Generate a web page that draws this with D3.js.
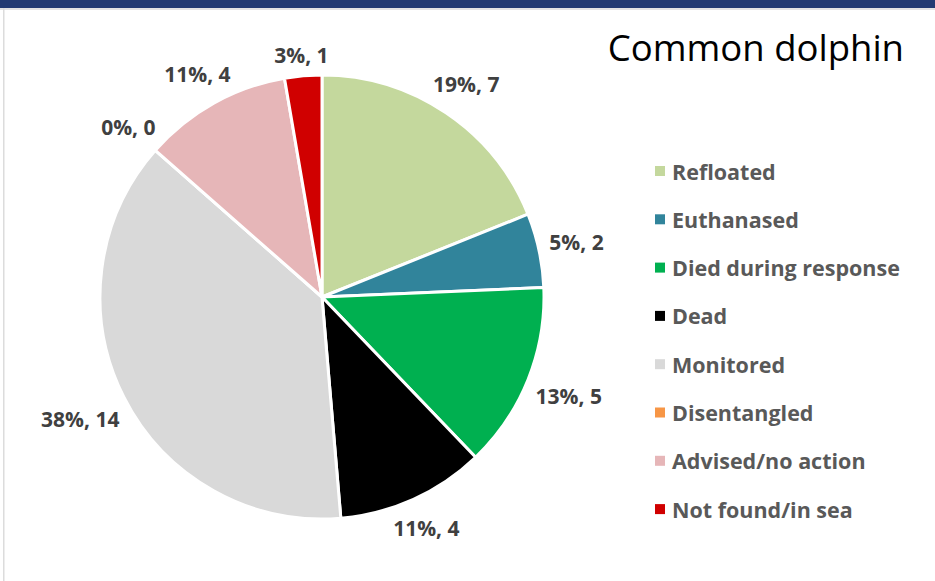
<!DOCTYPE html>
<html>
<head>
<meta charset="utf-8">
<script src="https://cdn.jsdelivr.net/npm/d3@7"></script>
<style>
  body { margin: 0; background: #fff; }
  svg { display: block; }
</style>
</head>
<body>
<script>
'use strict';

const categories = ['Refloated', 'Euthanased', 'Died during response', 'Dead',
  'Monitored', 'Disentangled', 'Advised/no action', 'Not found/in sea'];
const counts = [7, 2, 5, 4, 14, 0, 4, 1];
// percentages as printed on the chart
const percents = [19, 5, 13, 11, 38, 0, 11, 3];
const colours = ['#c4d89d', '#31849b', '#00b050', '#000000',
  '#d9d9d9', '#f79646', '#e6b6b8', '#d00000'];
const title = 'Common dolphin';

const width = 935, height = 581;
const cx = 322, cy = 297, r = 222;
const font = '"Open Sans", Lato, sans-serif';

const svg = d3.select('body').append('svg')
    .attr('width', width)
    .attr('height', height);

// frame bits of the slide
svg.append('rect').attr('x', 0).attr('y', 0).attr('width', width).attr('height', 8).attr('fill', '#233b73');
svg.append('rect').attr('x', 0).attr('y', 8).attr('width', width).attr('height', 2).attr('fill', '#e4e4e4');
svg.append('rect').attr('x', 3).attr('y', 8).attr('width', 1.5).attr('height', height - 8).attr('fill', '#dcdcdc');

const data = categories.map(function (c, i) {
  return {cat: c, n: counts[i], pct: percents[i], col: colours[i]};
});

const pie = d3.pie().sort(null).value(function (d) { return d.n; });
const arc = d3.arc().innerRadius(0).outerRadius(r);
const arcs = pie(data);

const g = svg.append('g').attr('transform', 'translate(' + cx + ',' + cy + ')');

g.selectAll('path.slice')
    .data(arcs).enter()
  .append('path')
    .attr('class', 'slice')
    .attr('d', arc)
    .attr('fill', function (d) { return d.data.col; })
    .attr('stroke', '#fff')
    .attr('stroke-width', 3)
    .attr('stroke-linejoin', 'round');

// data labels outside the pie
const lbl = g.selectAll('text.lbl')
    .data(arcs).enter()
  .append('text')
    .attr('class', 'lbl')
    .attr('text-anchor', 'middle')
    .attr('dominant-baseline', 'central')
    .style('font-family', font)
    .style('font-weight', 'bold')
    .style('font-size', '21px')
    .style('fill', '#404040')
    .text(function (d) { return d.data.pct + '%, ' + d.data.n; });

lbl.each(function (d) {
  const bb = this.getBBox();
  const a = (d.startAngle + d.endAngle) / 2;
  const s = Math.sin(a), c = Math.cos(a);
  const R = r + 10 + Math.abs(s) * bb.width / 2 + Math.abs(c) * bb.height * 0.3;
  d3.select(this).attr('x', R * s).attr('y', -R * c);
});

// title
svg.append('text')
    .attr('x', 904)
    .attr('y', 61)
    .attr('text-anchor', 'end')
    .style('font-family', font)
    .style('font-size', '36.5px')
    .style('fill', '#000')
    .text(title);

// legend
const legend = svg.append('g').attr('transform', 'translate(655,171)');
const row = legend.selectAll('g')
    .data(data).enter()
  .append('g')
    .attr('transform', function (d, i) { return 'translate(0,' + (i * 48.3) + ')'; });

row.append('rect')
    .attr('x', 0).attr('y', -5)
    .attr('width', 10).attr('height', 10)
    .attr('fill', function (d) { return d.col; });

row.append('text')
    .attr('x', 17)
    .attr('dominant-baseline', 'central')
    .style('font-family', font)
    .style('font-weight', 'bold')
    .style('font-size', '21.5px')
    .style('fill', '#595959')
    .text(function (d) { return d.cat; });
</script>
</body>
</html>
